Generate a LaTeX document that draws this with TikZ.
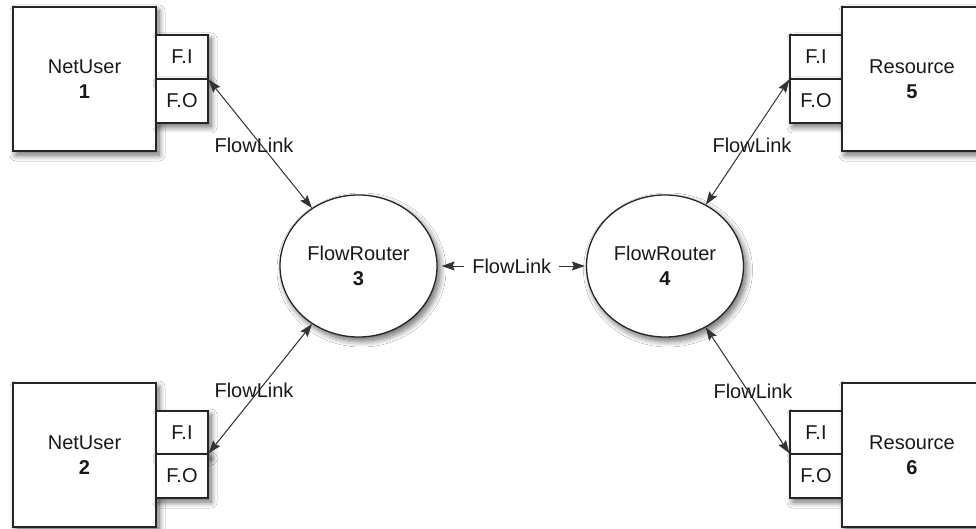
\documentclass[tikz,border=0pt]{standalone}
\usepackage{fontspec}
\setmainfont{Liberation Sans}
\usetikzlibrary{shadows.blur,arrows.meta,shapes.geometric}
\begin{document}
\begin{tikzpicture}[x=1pt,y=-1pt,
  every node/.style={font=\fontsize{20}{25}\selectfont, text=black!90},
  shad/.style={blur shadow={shadow xshift=3pt,shadow yshift=-4pt,shadow blur steps=10,shadow blur radius=6pt,shadow opacity=60}},
  mainbox/.style={draw=black!85,line width=1.3pt,fill=white,minimum width=143pt,minimum height=144pt,align=center,inner sep=0pt,shad},
  portbox/.style={draw=black!85,line width=1.3pt,fill=white,minimum width=52pt,minimum height=44pt,inner sep=0pt,shad},
  router/.style={ellipse,draw=black!85,line width=1.3pt,fill=white,minimum width=157pt,minimum height=142pt,align=center,inner sep=0pt,shad},
  link/.style={draw=black!80,line width=1pt,{Stealth[length=13pt,width=9pt,inset=2pt]}-{Stealth[length=13pt,width=9pt,inset=2pt]}},
  lbl/.style={inner sep=1pt}
]
\clip (0,0) rectangle (976,529);
\fill[white] (0,0) rectangle (976,529);

% left side
\node[mainbox] (u1) at (84.5,79) {NetUser\\\textbf{1}};
\node[portbox] (p1i) at (182,57) {F.I};
\node[portbox] (p1o) at (182,101) {F.O};
\node[mainbox] (u2) at (84.5,455) {NetUser\\\textbf{2}};
\node[portbox] (p2i) at (182,433) {F.I};
\node[portbox] (p2o) at (182,476) {F.O};

% right side
\node[portbox] (p5i) at (816,57) {F.I};
\node[portbox] (p5o) at (816,101) {F.O};
\node[mainbox,minimum width=158pt] (s5) at (921,79) {};
\node (t5) at (912,79) [align=center] {Resource\\\textbf{5}};
\node[portbox] (p6i) at (816,433) {F.I};
\node[portbox] (p6o) at (816,476) {F.O};
\node[mainbox,minimum width=158pt] (s6) at (921,455) {};
\node (t6) at (912,455) [align=center] {Resource\\\textbf{6}};

% routers
\node[router] (r3) at (358.5,266) {FlowRouter\\\textbf{3}};
\node[router] (r4) at (665,266) {FlowRouter\\\textbf{4}};

% links
\draw[link] (p1i.south east) -- (r3);
\draw[link] (p2o.north east) -- (r3);
\draw[link] (p5i.south west) -- (r4);
\draw[link] (p6o.north west) -- (r4);
\draw[link,shorten <=4pt,shorten >=1pt] (r3) -- node[fill=white,inner xsep=8pt,inner ysep=2pt] (lm) {FlowLink} (r4);

\node[lbl] (l1) at (254,145) {FlowLink};
\node[lbl] (l2) at (254,390) {FlowLink};
\node[lbl] (l5) at (752,145) {FlowLink};
\node[lbl] (l6) at (753,391) {FlowLink};
\end{tikzpicture}
\end{document}
